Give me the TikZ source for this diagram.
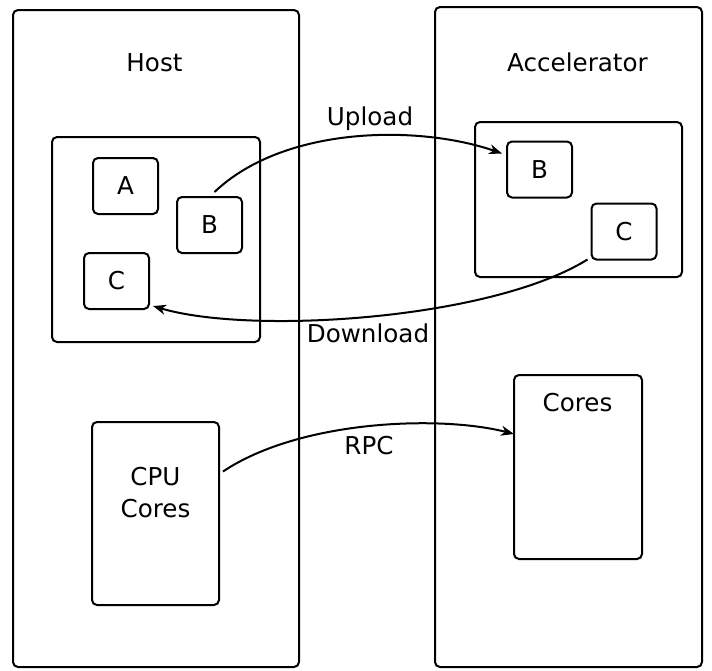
\documentclass[tikz,border=0pt]{standalone}
\usepackage{fontspec}
\setmainfont{DejaVu Sans}
\usetikzlibrary{arrows.meta}
\begin{document}
\begin{tikzpicture}[x=1pt,y=-1pt,
  box/.style={draw=black,line width=2pt,rounded corners=5pt,inner sep=0pt},
  lbl/.style={anchor=base,inner sep=0pt,font=\fontsize{24.6}{31}\selectfont},
  conn/.style={line width=2pt,-{Stealth[length=13pt,width=10pt,inset=4pt]}}]
\useasboundingbox (0,0) rectangle (712,670);
% containers
\node[box,minimum width=286pt,minimum height=657pt] (host) at (156,338.5) {};
\node[box,minimum width=267pt,minimum height=660pt] (accel) at (568.5,337) {};
\node[lbl] (hostlbl) at (154.5,71) {Host};
\node[lbl] (accellbl) at (577.5,71) {Accelerator};
% host group
\node[box,minimum width=208pt,minimum height=205pt] (hgrp) at (156,239.5) {};
\node[box,minimum width=65pt,minimum height=56pt,font=\fontsize{24.6}{31}\selectfont] (hA) at (125.5,186) {A};
\node[box,minimum width=65pt,minimum height=56pt,font=\fontsize{24.6}{31}\selectfont] (hB) at (209.5,225) {B};
\node[box,minimum width=65pt,minimum height=56pt,font=\fontsize{24.6}{31}\selectfont] (hC) at (116.5,281) {C};
% accel group
\node[box,minimum width=207pt,minimum height=155pt] (agrp) at (578.5,199.5) {};
\node[box,minimum width=65pt,minimum height=56pt,font=\fontsize{24.6}{31}\selectfont] (aB) at (539.5,169.5) {B};
\node[box,minimum width=65pt,minimum height=56pt,font=\fontsize{24.6}{31}\selectfont] (aC) at (624,231.5) {C};
% cores
\node[box,minimum width=127pt,minimum height=183pt] (cpu) at (155.5,513.5) {};
\node[lbl] (cpu1) at (155.5,485) {CPU};
\node[lbl] (cpu2) at (155.5,517) {Cores};
\node[box,minimum width=128pt,minimum height=184pt] (cores) at (578,467) {};
\node[lbl] (coreslbl) at (577.5,411) {Cores};
% connectors
\draw[conn] ([xshift=5pt,yshift=4pt]hB.north) .. controls (285,125) and (420,125) .. ([xshift=-4pt,yshift=16pt]aB.west);
\draw[conn] ([xshift=-3pt,yshift=1pt]aC.south west) .. controls (490,320) and (250,335) .. ([xshift=3pt,yshift=4pt]hC.south east);
\draw[conn] ([xshift=3pt,yshift=42pt]cpu.east) .. controls (300,420) and (440,415) .. ([xshift=1pt,yshift=33pt]cores.west);
% connector labels
\node[lbl] (up) at (370,125) {Upload};
\node[lbl] (down) at (368,342) {Download};
\node[lbl] (rpc) at (369,454) {RPC};
\end{tikzpicture}
\end{document}
